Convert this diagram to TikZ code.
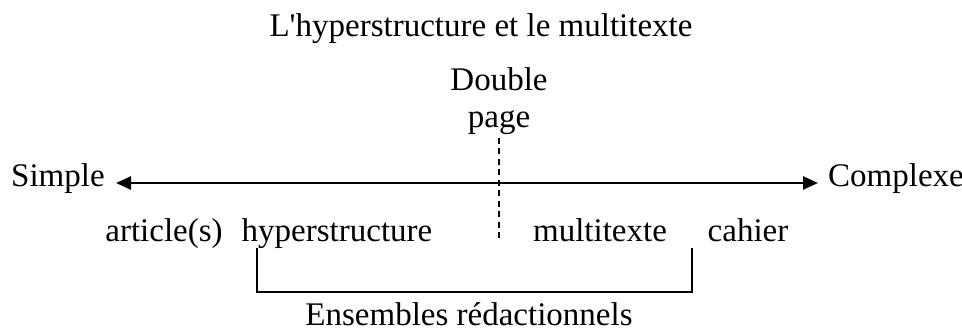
\documentclass[tikz,border=0pt]{standalone}
\usepackage{fontspec}
\setmainfont{Liberation Serif}
\usetikzlibrary{arrows.meta}
\newcommand{\straightq}{{\XeTeXglyph\XeTeXglyphindex "quotesingle"\relax}}
\begin{document}
\begin{tikzpicture}[x=1pt,y=-1pt,
  lbl/.style={inner sep=0pt,anchor=base,font=\fontsize{33}{37}\selectfont},
  axis/.style={line width=2.6pt,{Triangle[length=15pt,width=13pt]}-{Triangle[length=15pt,width=13pt]}},
  sep/.style={line width=1.6pt,dash pattern=on 6pt off 4.5pt},
  brace/.style={line width=1.8pt}]
\useasboundingbox (0,0) rectangle (962,331);
\node[lbl] (title) at (481,37) {L\straightq hyperstructure et le multitexte};
\node[lbl] (double) at (499,91) {Double};
\node[lbl] (page) at (499,128) {page};
\node[lbl,anchor=base west] (simple) at (11,187) {Simple};
\node[lbl,anchor=base west] (complexe) at (828,187) {Complexe};
\coordinate (ltip) at (116,183);
\coordinate (rtip) at (818,183);
\draw[axis] (ltip) -- (rtip);
\coordinate (dtop) at (499,138);
\coordinate (dbot) at (499,243);
\draw[sep] (dtop) -- (dbot);
\node[lbl] (article) at (164,242) {article(s)};
\node[lbl] (hyper) at (337,242) {hyperstructure};
\node[lbl] (multi) at (600,242) {multitexte};
\node[lbl] (cahier) at (748,242) {cahier};
\coordinate (bl) at (257,248);
\coordinate (br) at (692,248);
\draw[brace] (bl) -- (257,292) -- (692,292) -- (br);
\node[lbl] (ens) at (469,326) {Ensembles rédactionnels};
\end{tikzpicture}
\end{document}
